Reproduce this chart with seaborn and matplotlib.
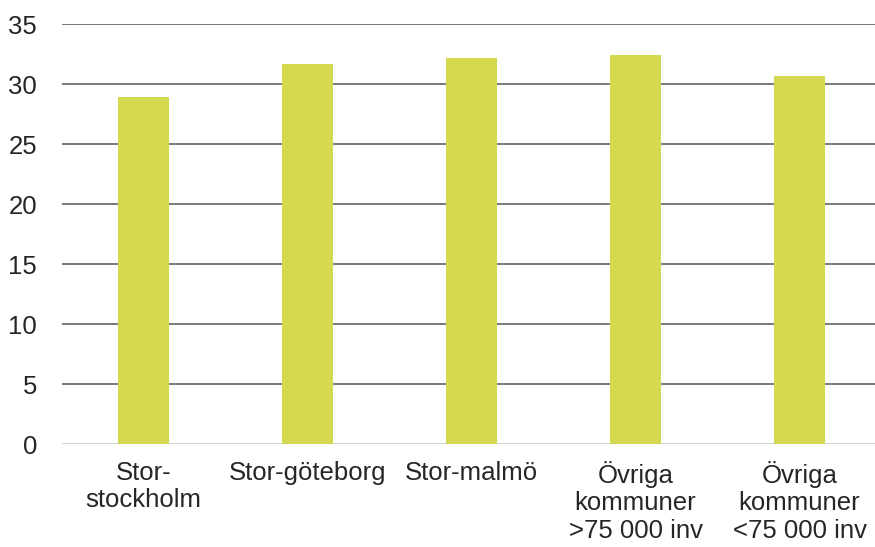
import numpy as np
import pandas as pd
import matplotlib
matplotlib.use('Agg')
import matplotlib.pyplot as plt
import seaborn as sns

categories = ['Stor-\nstockholm', 'Stor-göteborg', 'Stor-malmö',
              'Övriga\nkommuner\n>75 000 inv', 'Övriga\nkommuner\n<75 000 inv']
values = [28.9, 31.7, 32.2, 32.4, 30.7]
yticks = [0, 5, 10, 15, 20, 25, 30, 35]

sns.set_style('white')
plt.rcParams['font.family'] = ['Liberation Sans', 'DejaVu Sans']

df = pd.DataFrame({'Region': categories, 'Value': values})

fig = plt.figure(figsize=(8.75, 5.47), dpi=100)
ax = fig.add_axes([62/875, 103/547, 813/875, 420/547])
sns.barplot(x='Region', y='Value', data=df, color='#d4d94f', saturation=1,
            width=0.31, linewidth=0, ax=ax, zorder=3)

ax.set_ylim(0, 35)
ax.set_xlim(-0.497, 4.46)
ax.set_yticks(yticks)
for t in yticks[1:]:
    ax.axhline(t, color='#6e6e6e', linewidth=1.3, zorder=1)
ax.axhline(0, color='#cfcfcf', linewidth=1.3, zorder=1)

for s in ax.spines.values():
    s.set_visible(False)
ax.set_xlabel('')
ax.set_ylabel('')
ax.tick_params(axis='y', length=0, pad=18, labelsize=18.5)
ax.tick_params(axis='x', length=0, pad=12, labelsize=18.5)
for lab in ax.get_xticklabels():
    lab.set_linespacing(1.18)

plt.savefig('out.png', dpi=100)
